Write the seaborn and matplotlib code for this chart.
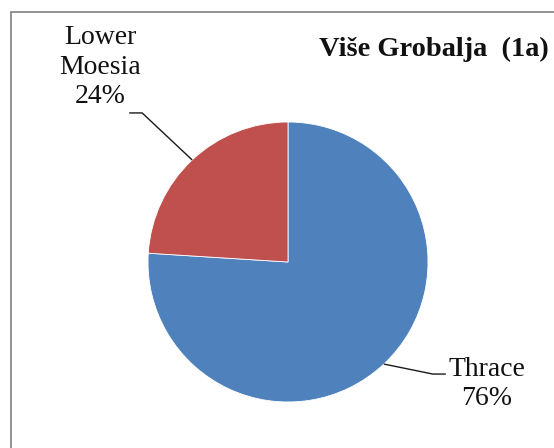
import matplotlib
matplotlib.use("Agg")
import matplotlib.pyplot as plt
import matplotlib.patches as mpatches
import numpy as np
import seaborn as sns

# ---- data ----
categories = ["Thrace", "Lower Moesia"]
shares = [76, 24]
pct_labels = ["76%", "24%"]
title_text = "Više Grobalja  (1a)"

sns.set_theme(style="white")
plt.rcParams['font.family'] = ['Liberation Serif', 'DejaVu Serif']

colors = ["#4F81BD", "#C0504D"]

W, H = 554, 448
fig = plt.figure(figsize=(W / 100, H / 100), dpi=100)
ax = fig.add_axes([0, 0, 1, 1])

center = (288, 186)
radius = 140
wedges, _ = ax.pie(shares, colors=colors, startangle=90, counterclock=False,
                   center=center, radius=radius,
                   wedgeprops=dict(edgecolor="white", linewidth=0.6))
ax.set_xlim(0, W)
ax.set_ylim(0, H)
ax.set_aspect("equal")
ax.axis("off")

# label layout: (text centre x, text centre y, elbow offset dx, dy, horizontal run)
layout = {
    "Thrace": dict(tx=487, ty=64, elbow=(49, -10), run=13),
    "Lower Moesia": dict(tx=100, ty=381, elbow=(-50, 47), run=-13),
}

for w, cat, pct in zip(wedges, categories, pct_labels):
    mid = np.deg2rad((w.theta1 + w.theta2) / 2)
    ax_x = center[0] + radius * np.cos(mid)
    ax_y = center[1] + radius * np.sin(mid)
    L = layout[cat]
    ex, ey = ax_x + L["elbow"][0], ax_y + L["elbow"][1]
    hx = ex + L["run"]
    ax.plot([ax_x, ex, hx], [ax_y, ey, ey], color="#1a1a1a", lw=1.0,
            solid_capstyle="butt")
    label = cat.replace(" ", "\n") + "\n" + pct
    ax.text(L["tx"], L["ty"], label, ha="center", va="center",
            multialignment="center", fontsize=20, linespacing=1.22,
            color="#111111")

ax.text(319, 392, title_text, ha="left", va="baseline", fontsize=20.4,
        fontweight="bold", color="#111111")

border = mpatches.Rectangle((10.5, -20), 700, H - 11.5 + 20, fill=False,
                            edgecolor="#8a8a8a", linewidth=1.3)
ax.add_patch(border)

fig.savefig("out.png", dpi=100)
